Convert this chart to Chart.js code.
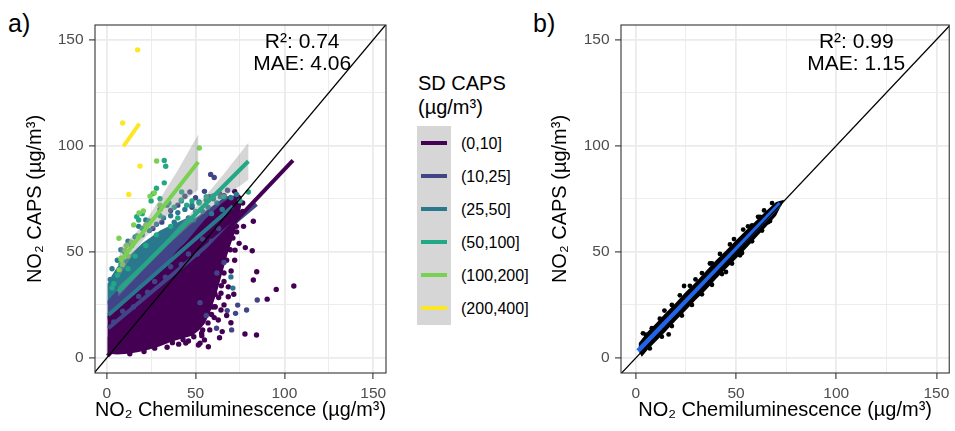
<!DOCTYPE html>
<html>
<head>
<meta charset="utf-8">
<script src="https://cdn.jsdelivr.net/npm/chart.js@4.4.1/dist/chart.umd.min.js"></script>
<style>
  body { margin: 0; width: 955px; height: 431px; overflow: hidden; position: relative; background: #fff;
         font-family: "Liberation Sans", Arial, sans-serif; color: #000; }
  .tag { position: absolute; top: 11px; font-size: 25px; line-height: 25px; }
  .wrap { position: absolute; top: 0; }
  #wrapA { left: 0; width: 400px; height: 431px; }
  #wrapB { left: 530px; width: 425px; height: 431px; }
  #legend { position: absolute; left: 0; top: 0; z-index: 2; }
  .lgTitle { position: absolute; left: 418px; top: 71px; font-size: 20px; line-height: 24px; white-space: nowrap; }
  .lgKeys { position: absolute; left: 417px; top: 126px; width: 34px; height: 199px; background: #D6D6D6; }
  .lgLine { position: absolute; left: 421px; width: 26px; height: 4px; }
  .lgText { position: absolute; left: 461px; font-size: 16px; line-height: 20px; white-space: nowrap; }
</style>
</head>
<body>
<div class="tag" style="left:8px">a)</div>
<div class="tag" style="left:533px">b)</div>
<div id="legend"></div>
<div class="wrap" id="wrapA"><canvas id="chartA" width="400" height="431"></canvas></div>
<div class="wrap" id="wrapB"><canvas id="chartB" width="425" height="431"></canvas></div>
<script>
// SD CAPS classes (panel a)
const groups = ["(0,10]", "(10,25]", "(25,50]", "(50,100]", "(100,200]", "(200,400]"];
const groupColors = ["#440154", "#414487", "#2A788E", "#22A884", "#7AD151", "#FDE725"];

// axis ticks
const gridVals = [0, 25, 50, 75, 100, 125, 150];
const tickVals = [0, 50, 100, 150];
const identityLine = [-10, 170];

// linear fits per class, start and end points
const fitX0 = [0.5, 0.9, 0.9, 6.4, 7.4, 9.4];
const fitY0 = [1.0, 14.0, 20.2, 31.2, 45.3, 99.7];
const fitX1 = [104.8, 84.3, 71.0, 79.7, 51.5, 18.4];
const fitY1 = [93.1, 72.4, 71.5, 92.7, 92.3, 110.4];

// confidence bands of the two widest fits
const band50X  = [6.4, 20, 35, 50, 65, 79.7];
const band50Lo = [29.0, 41.0, 53.6, 65.0, 75.1, 84.0];
const band50Hi = [33.4, 44.2, 56.8, 70.6, 85.7, 101.4];
const band100X  = [7.4, 15, 22, 31, 40, 51.5];
const band100Lo = [38.8, 49.2, 57.1, 64.7, 71.7, 79.3];
const band100Hi = [51.8, 57.6, 64.7, 76.3, 88.5, 105.3];

// dense parts of the point cloud (outline, upper and lower edge)
const cloudPurpleTop = [[0.4,10],[0.5,20],[5,22],[10,26],[15,30],[20,34],[25,38],[30,42],[35,46],[40,51],[45,55],[50,60],[55,65],[60,69],[65,73],[70,76],[74,77.5],[76,76]];
const cloudPurpleBottom = [[0.4,10],[0.6,2],[6,1.6],[12,2],[18,2.8],[24,4],[30,5.5],[36,7.5],[42,9],[48,10.5],[52,13],[55,16],[58,21],[60,26],[62,31],[64,37],[66,43],[68,49],[70,54],[72,59],[74,65],[75.5,71],[76,76]];
const cloudBlueTop = [[0.4,18],[0.5,27],[5,31],[10,35],[15,39],[20,43],[25,47],[30,51],[35,55],[40,59],[45,62.5],[50,66],[55,69],[60,72],[65,75],[70,77]];
const cloudBlueBottom = [[0.4,18],[10,24],[30,38],[50,52],[65,65],[70,77]];
const cloudTealTop = [[0.4,25],[0.5,35],[3,39],[6,43],[10,46],[15,50],[20,54],[25,57],[30,60],[35,62],[40,64],[45,66],[50,68]];
const cloudTealBottom = [[0.4,25],[20,40],[40,55],[50,68]];

// single points outside (and on the rim of) the dense part
const dotsSD0_10 = [[105.3,33.9],[95.4,32.3],[90.3,27.7],[84.3,10.8],[77.8,11.3],[82.5,64.4],[81.9,50.5],[84.4,40.6],[82.5,36.7],[69.9,16.6],[65,12.4],[64.3,22.6],[62.8,17.9],[68.4,28.8],[68.4,33.5],[72.2,50.8],[73.1,59.4],[70.3,64.1],[57.2,5.3],[51.6,6.1],[58,13.2],[60.5,19],[66,25],[70,41],[72,46],[74.5,54],[77,62],[76.5,69],[55,8.5],[46,8],[61,30],[59.5,24],[66,36],[63.5,9.5],[67.5,20],[71.5,30],[78,52],[53.5,10.5],[40.5,6.5],[34,5],[44.5,7],[64.3,30.5],[60.9,24.2],[53.4,11.6],[52.5,6.9],
  [13,2],[21,3],[27,4.6],[37,7.2],[43,8.6],[49,10],[54,13.2],[57,16.5],[59,20.5],[61,24],[63,28.5],[64.5,34],[66,40],[67.5,46],[69.5,51],[71,56.5],[73,62],[75,68],[76.5,73],[72,78.5],[66,76.5]];
const dotsSD10_25 = [[58.5,86.5],[60.5,85],[46.8,78.2],[44,76.2],[84.7,27.3],[73.7,24.9],[78.7,22.6],[67.8,22.3],[70.3,13.2],[61.8,14],[55,78.5],[40,72],[36,69.5],[50,75.5],[63.5,77.5],[68,79],[72.5,21],[56,20],[52.5,26],[66,45],[62,40],[31,64],[26,61],[48,71],[58,76],
  [15,24],[18,29],[23,31],[27,36],[33,38],[36,43],[42,44],[46,49],[51,49],[54,56],[59,55],[63,61],[9,22],[4,17]];
const dotsSD25_50 = [[69.9,38.2],[71,32.9],[20,58],[24,60],[28,63],[32,66],[36,67],[40,68.5],[44,70],[48,72],[52,73.5],[56,74.5],[60,75],[64,76],[10,50],[14,53],[6,46],[3,42],[30,70],[22,65],[16,57],[34,72],[42,74],[38,64],[46,66],[54,69],[26,55],[70,75.5],[73,77],[18,62],[12,55],[8,51],[2,37],[65,70],[59,68],
  [33,59],[41,62],[49,65],[57,71],[62,73]];
const dotsSD50_100 = [[32.4,93.1],[33.2,90.3],[32.4,82.5],[79.7,78.2],[28,80],[25,74],[35,73],[38,71],[42,74.5],[45,72],[30,67],[24,64.5],[20,61],[17,57.5],[14,53],[11,49],[8,44],[6,39],[4,35],[48,74],[52,73],[56,76],[60,76.5],[50,69],[40,66],[36,62],[28,58],[22,53],[16,48],[12,42],[66,76],[75,74],[20,68],[18,65],[26.2,77.5],[42.2,78.2],[16.9,66.5],[9,47],[3,33],[30,75]];
const dotsSD100_200 = [[52.1,98.9],[28.1,92.8],[26.8,77.8],[24.4,76.2],[20.6,69.3],[18.2,68.3],[15.2,62.7],[6.9,56.4],[10.3,50.8],[12,48],[8,47],[14,54.5],[18,57],[22,62.5],[9,44],[30,72],[7,41.5],[11,53]];
const dotsSD200_400 = [[17.4,145.2],[9,110.7],[18.7,90.4],[12.4,77]];
const dotsA = [dotsSD0_10, dotsSD10_25, dotsSD25_50, dotsSD50_100, dotsSD100_200, dotsSD200_400];

// panel b: corrected values
const cloudBTop = [[1.2,3.5],[1.5,7],[6,12.5],[10,16.2],[15,21.3],[20,26],[25,31.2],[30,35.8],[35,41],[40,46],[45,50.6],[50,55.5],[55,60.2],[60,64.6],[65,69.2],[70,73.5],[74,74.5]];
const cloudBBottom = [[1.2,3.5],[3,0.5],[6,4],[10,7.8],[15,12.6],[20,17.6],[25,22.5],[30,27.4],[35,32],[40,37.2],[45,42],[50,46.8],[55,51.6],[60,56.8],[65,61.8],[70,67],[74,74.5]];
const dotsB = [[3.6,11.6],[14.3,22.3],[16.4,11.1],[24.1,33.9],[29.8,37],[52,48.4],[53.6,60.5],[71.6,72.4],[62,66.5],[8,14],[38,44.5],[45,40.5],[58,62.5],[66,64],
  [5,11],[12,18.5],[18,25],[22,29.5],[27,34],[33,40],[37,44.5],[42,49],[47,53.5],[49,56],[56,62],[61,66.5],[64,69.5],[68,73],
  [7,4.5],[13,10],[18,15],[23,20],[28,25],[33,30],[38,34.5],[43,39.5],[48,44.5],[53,49.5],[58,55],[63,60],[67,64.5]];
const fitBX = [1.1, 72.1];
const fitBY = [3.3, 72.8];

const statsA = ["R²: 0.74", "MAE: 4.06"];
const statsB = ["R²: 0.99", "MAE: 1.15"];

// ---------------------------------------------------------------

Chart.defaults.font.family = '"Liberation Sans", Arial, sans-serif';
Chart.defaults.animation = false;

const pt = a => a.map(([x, y]) => ({ x, y }));

// closed outline; ends on the right so the filler clip covers all of it
function shape(top, bottom) {
  return pt(top.concat(bottom.slice(0, -1).reverse(), [top[top.length - 1]]));
}
function ribbon(xs, lo, hi) {
  const n = xs.length - 1;
  const L = [xs[0], (lo[0] + hi[0]) / 2], R = [xs[n], (lo[n] + hi[n]) / 2];
  return shape([L, ...xs.map((x, i) => [x, hi[i]]), R], [L, ...xs.map((x, i) => [x, lo[i]]), R]);
}

const polyDs = (data, color, order) => ({
  type: "line", data, fill: "shape", backgroundColor: color,
  borderColor: "rgba(0,0,0,0)", borderWidth: 0, pointRadius: 0, order
});
const dotDs = (data, color, radius, order) => ({
  type: "scatter", data: pt(data), backgroundColor: color, borderWidth: 0, pointRadius: radius, order
});
const segDs = (xs, ys, color, width, order) => ({
  type: "line", data: pt(xs.map((x, i) => [x, ys[i]])), borderColor: color,
  borderWidth: width, pointRadius: 0, fill: false, order
});

const panelBorder = {
  id: "panelBorder",
  afterDraw(chart) {
    const { ctx, chartArea: a } = chart;
    ctx.save();
    ctx.strokeStyle = "#333333";
    ctx.lineWidth = 1.1;
    ctx.strokeRect(a.left, a.top, a.right - a.left, a.bottom - a.top);
    ctx.restore();
  }
};

const statsLabel = {
  id: "statsLabel",
  afterDatasetsDraw(chart, args, opts) {
    const { ctx, scales } = chart;
    ctx.save();
    ctx.font = '21px "Liberation Sans", Arial, sans-serif';
    ctx.fillStyle = "#000";
    ctx.textAlign = "center";
    ctx.textBaseline = "alphabetic";
    opts.lines.forEach((t, i) => {
      ctx.fillText(t, scales.x.getPixelForValue(opts.x), scales.y.getPixelForValue(opts.y[i]));
    });
    ctx.restore();
  }
};

function axis(min, max, title, titlePad, fit) {
  return {
    type: "linear", min, max,
    afterBuildTicks: s => { s.ticks = gridVals.map(v => ({ value: v })); },
    afterFit: fit,
    border: { display: false },
    grid: {
      color: "#EBEBEB",
      lineWidth: c => (c.tick && tickVals.includes(c.tick.value)) ? 1.8 : 0.9,
      tickLength: 6,
      tickWidth: 1.1,
      tickColor: c => (c.tick && tickVals.includes(c.tick.value)) ? "#333333" : "rgba(0,0,0,0)"
    },
    ticks: {
      autoSkip: false, maxRotation: 0, padding: 5.5, color: "#4D4D4D",
      font: { size: 15.5 },
      callback: v => tickVals.includes(v) ? String(v) : ""
    },
    title: { display: true, text: title, color: "#000", font: { size: 20 }, padding: titlePad }
  };
}

function makeChart(id, datasets, xMin, xMax, yWidth, pad, yTitlePad, stats) {
  return new Chart(document.getElementById(id), {
    type: "scatter",
    data: { datasets },
    options: {
      responsive: false,
      events: [],
      layout: { padding: pad },
      plugins: {
        legend: { display: false },
        tooltip: { enabled: false },
        statsLabel: { lines: stats, x: 110, y: [146.1, 135.7] }
      },
      scales: {
        x: axis(xMin, xMax, "NO₂ Chemiluminescence (µg/m³)", { bottom: 8.5 }, s => { s.height = 58; }),
        y: axis(-7.1, 156.9, "NO₂ CAPS (µg/m³)", { top: yTitlePad }, s => { s.width = yWidth; })
      }
    },
    plugins: [panelBorder, statsLabel]
  });
}

// panel a
const dsA = [];
dsA.push(segDs(identityLine, identityLine, "#000000", 1.3, 0));
groups.forEach((g, i) => dsA.push(segDs([fitX0[i], fitX1[i]], [fitY0[i], fitY1[i]], groupColors[i], 4, 1)));
dsA.push(polyDs(ribbon(band50X, band50Lo, band50Hi), "rgba(153,153,153,0.4)", 2));
dsA.push(polyDs(ribbon(band100X, band100Lo, band100Hi), "rgba(153,153,153,0.4)", 2));
for (let i = groups.length - 1; i >= 0; i--) dsA.push(dotDs(dotsA[i], groupColors[i], 2.7, 3 + (5 - i) * 0.1));
dsA.push(polyDs(shape(cloudPurpleTop, cloudPurpleBottom), groupColors[0], 4));
dsA.push(polyDs(shape(cloudBlueTop, cloudBlueBottom), groupColors[1], 4.1));
dsA.push(polyDs(shape(cloudTealTop, cloudTealBottom), groupColors[2], 4.2));

makeChart("chartA", dsA, -6.58, 157.15, 95, { top: 25, right: 14, left: 0, bottom: 0 }, 23, statsA);

// panel b
const dsB = [
  segDs(identityLine, identityLine, "#000000", 1.3, 0),
  segDs(fitBX, fitBY, "#2166E8", 4.5, 1),
  dotDs(dotsB, "#000000", 2.4, 3),
  polyDs(shape(cloudBTop, cloudBBottom), "#000000", 4)
];
makeChart("chartB", dsB, -7.38, 156.4, 91, { top: 25, right: 1, left: 0, bottom: 0 }, 18.7, statsB);

// legend
const legend = document.getElementById("legend");
legend.innerHTML = '<div class="lgTitle">SD CAPS<br>(µg/m³)</div><div class="lgKeys"></div>';
groups.forEach((g, i) => {
  const cy = 142.7 + 33.1 * i;
  const line = document.createElement("div");
  line.className = "lgLine";
  line.style.top = (cy - 2) + "px";
  line.style.background = groupColors[i];
  const txt = document.createElement("div");
  txt.className = "lgText";
  txt.style.top = (cy - 9) + "px";
  txt.textContent = g;
  legend.appendChild(line);
  legend.appendChild(txt);
});
</script>
</body>
</html>
